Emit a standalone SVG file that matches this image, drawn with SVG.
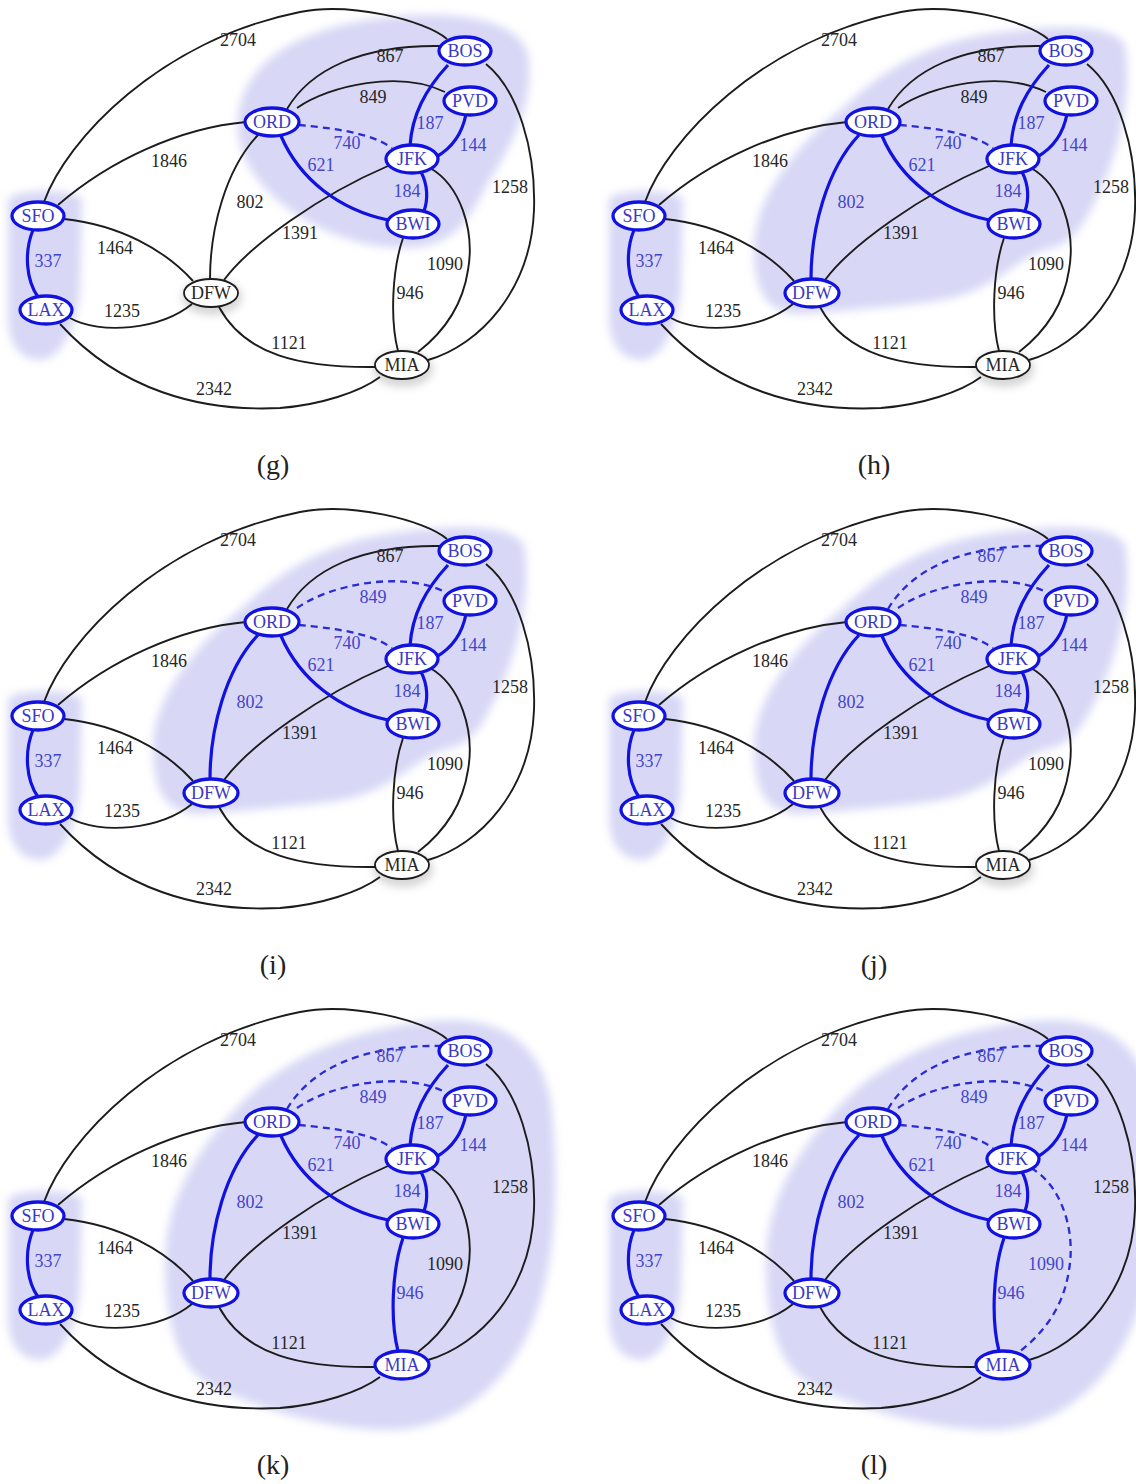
<svg xmlns="http://www.w3.org/2000/svg" width="1136" height="1484" viewBox="0 0 1136 1484">
<style>
.k{fill:none;stroke:#1c1c1c;stroke-width:1.9}
.b{fill:none;stroke:#1212e0;stroke-width:3.2}
.d{fill:none;stroke:#2a2ad6;stroke-width:2.3;stroke-dasharray:7 5}
.lk,.lb{font-family:"Liberation Serif",serif;font-size:18px;text-anchor:middle}
.lk{fill:#262626}
.lb{fill:#4444cc}
.nb ellipse{fill:#fff;stroke:#1212e0;stroke-width:3.3}
.nk ellipse{fill:#fff;stroke:#1c1c1c;stroke-width:1.8}
.nb text,.nk text{font-family:"Liberation Serif",serif;font-size:18px;text-anchor:middle}
.nb text{fill:#3a3ac4}
.nk text{fill:#262626}
.blob{fill:#d8d8f6;filter:url(#soft)}
.halo{fill:#d6d6d6;filter:url(#soft)}
.cap{font-family:"Liberation Serif",serif;font-size:28px;fill:#222;text-anchor:middle}
</style>
<defs>
<filter id="soft" x="-20%" y="-20%" width="140%" height="140%"><feGaussianBlur stdDeviation="4"/></filter>
<path id="e2704" d="M 44,202 C 66,140 160,40 300,12 C 350,2 425,20 447,39"/>
<path id="e1846" d="M 58,205 C 110,160 180,128 246,122"/>
<path id="e1464" d="M 64,219 C 120,225 165,250 193,281"/>
<path id="e337" d="M 33,230 C 24,252 26,280 38,297"/>
<path id="e1235" d="M 70,318 C 100,335 160,330 192,304"/>
<path id="e2342" d="M 60,324 C 120,390 200,412 280,408 C 320,405 360,392 380,377"/>
<path id="e802" d="M 210,279 C 210,230 225,170 258,135"/>
<path id="e1391" d="M 224,280 C 250,245 320,195 388,166"/>
<path id="e1121" d="M 219,307 C 245,355 300,368 376,367"/>
<path id="e867" d="M 287,109 C 310,70 360,45 440,46"/>
<path id="e849" d="M 297,108 C 330,85 400,70 445,92"/>
<path id="e740" d="M 299,125 C 330,128 370,132 392,148"/>
<path id="e621" d="M 281,136 C 300,180 340,210 388,220"/>
<path id="e187" d="M 448,65 C 425,90 412,115 410,146"/>
<path id="e144" d="M 466,114 C 462,135 452,148 436,157"/>
<path id="e184" d="M 421,172 C 428,185 428,200 424,211"/>
<path id="e1090" d="M 430,168 C 460,185 475,230 468,270 C 462,310 440,335 418,352"/>
<path id="e946" d="M 403,238 C 392,270 390,320 398,351"/>
<path id="e1258" d="M 486,64 C 518,90 536,150 534,210 C 531,290 480,345 428,360"/>
<path id="blobSL" d="M 8,200 C 10,188 80,188 82,200 L 80,290 C 76,330 60,360 40,360 C 18,360 8,340 8,320 Z"/>
<path id="blobG" d="M 240,105 C 250,60 300,28 380,18 C 440,10 520,15 528,55 C 535,100 515,140 490,180 C 470,215 460,245 410,248 C 350,250 290,220 258,180 C 238,155 234,125 240,105 Z"/>
<path id="blobH" d="M 153,250 C 150,200 200,140 240,110 C 280,70 330,40 400,32 C 450,26 510,22 524,45 C 532,90 520,150 495,200 C 480,230 470,245 443,250 C 410,262 390,295 330,302 C 280,308 230,312 200,314 C 165,314 153,290 153,250 Z"/>
<path id="blobK" d="M 165,260 C 165,190 210,130 260,85 C 310,45 380,22 450,20 C 510,20 545,50 552,110 C 560,200 555,280 525,340 C 500,390 450,430 390,430 C 330,430 260,410 210,385 C 175,365 165,320 165,260 Z"/>
</defs>
<rect width="1136" height="1484" fill="#fff"/>

<!-- panel g -->
<g id="panel-g">
<g id="g-highlight"><use href="#blobSL" class="blob"/><use href="#blobG" class="blob"/><ellipse class="halo" cx="212" cy="297" rx="30" ry="18"/><ellipse class="halo" cx="403" cy="369" rx="30" ry="18"/></g>
<g id="g-connectors">
<use href="#e2704" class="k"/><use href="#e1846" class="k"/><use href="#e1464" class="k"/><use href="#e337" class="b"/><use href="#e1235" class="k"/><use href="#e2342" class="k"/><use href="#e802" class="k"/><use href="#e1391" class="k"/><use href="#e1121" class="k"/><use href="#e867" class="k"/><use href="#e849" class="k"/><use href="#e740" class="d"/><use href="#e621" class="b"/><use href="#e187" class="b"/><use href="#e144" class="b"/><use href="#e184" class="b"/><use href="#e1090" class="k"/><use href="#e946" class="k"/><use href="#e1258" class="k"/>
</g>
<g id="g-labels">
<text class="lk" x="238" y="46">2704</text><text class="lk" x="390" y="62">867</text><text class="lk" x="373" y="103">849</text><text class="lk" x="169" y="167">1846</text><text class="lb" x="347" y="149">740</text><text class="lb" x="321" y="171">621</text><text class="lb" x="430" y="129">187</text><text class="lb" x="473" y="151">144</text><text class="lb" x="407" y="197">184</text><text class="lk" x="510" y="193">1258</text><text class="lk" x="250" y="208">802</text><text class="lk" x="300" y="239">1391</text><text class="lk" x="115" y="254">1464</text><text class="lk" x="445" y="270">1090</text><text class="lb" x="48" y="267">337</text><text class="lk" x="410" y="299">946</text><text class="lk" x="122" y="317">1235</text><text class="lk" x="289" y="349">1121</text><text class="lk" x="214" y="395">2342</text>
</g>
<g id="g-SFO" class="nb"><ellipse cx="38" cy="216" rx="26" ry="14"/><text x="38" y="222">SFO</text></g>
<g id="g-LAX" class="nb"><ellipse cx="46" cy="310" rx="26" ry="14"/><text x="46" y="316">LAX</text></g>
<g id="g-DFW" class="nk"><ellipse cx="211" cy="293" rx="27" ry="14"/><text x="211" y="299">DFW</text></g>
<g id="g-ORD" class="nb"><ellipse cx="272" cy="122" rx="27" ry="14"/><text x="272" y="128">ORD</text></g>
<g id="g-BOS" class="nb"><ellipse cx="465" cy="51" rx="26" ry="14"/><text x="465" y="57">BOS</text></g>
<g id="g-PVD" class="nb"><ellipse cx="470" cy="101" rx="26" ry="14"/><text x="470" y="107">PVD</text></g>
<g id="g-JFK" class="nb"><ellipse cx="412" cy="159" rx="26" ry="14"/><text x="412" y="165">JFK</text></g>
<g id="g-BWI" class="nb"><ellipse cx="413" cy="224" rx="26" ry="14"/><text x="413" y="230">BWI</text></g>
<g id="g-MIA" class="nk"><ellipse cx="402" cy="365" rx="27" ry="14"/><text x="402" y="371">MIA</text></g>
<text class="cap" x="273" y="474">(g)</text>
</g>

<!-- panel h -->
<g id="panel-h" transform="translate(601,0)">
<g id="h-highlight"><use href="#blobSL" class="blob"/><use href="#blobH" class="blob"/><ellipse class="halo" cx="403" cy="369" rx="30" ry="18"/></g>
<g id="h-connectors">
<use href="#e2704" class="k"/><use href="#e1846" class="k"/><use href="#e1464" class="k"/><use href="#e337" class="b"/><use href="#e1235" class="k"/><use href="#e2342" class="k"/><use href="#e802" class="b"/><use href="#e1391" class="k"/><use href="#e1121" class="k"/><use href="#e867" class="k"/><use href="#e849" class="k"/><use href="#e740" class="d"/><use href="#e621" class="b"/><use href="#e187" class="b"/><use href="#e144" class="b"/><use href="#e184" class="b"/><use href="#e1090" class="k"/><use href="#e946" class="k"/><use href="#e1258" class="k"/>
</g>
<g id="h-labels">
<text class="lk" x="238" y="46">2704</text><text class="lk" x="390" y="62">867</text><text class="lk" x="373" y="103">849</text><text class="lk" x="169" y="167">1846</text><text class="lb" x="347" y="149">740</text><text class="lb" x="321" y="171">621</text><text class="lb" x="430" y="129">187</text><text class="lb" x="473" y="151">144</text><text class="lb" x="407" y="197">184</text><text class="lk" x="510" y="193">1258</text><text class="lb" x="250" y="208">802</text><text class="lk" x="300" y="239">1391</text><text class="lk" x="115" y="254">1464</text><text class="lk" x="445" y="270">1090</text><text class="lb" x="48" y="267">337</text><text class="lk" x="410" y="299">946</text><text class="lk" x="122" y="317">1235</text><text class="lk" x="289" y="349">1121</text><text class="lk" x="214" y="395">2342</text>
</g>
<g id="h-SFO" class="nb"><ellipse cx="38" cy="216" rx="26" ry="14"/><text x="38" y="222">SFO</text></g>
<g id="h-LAX" class="nb"><ellipse cx="46" cy="310" rx="26" ry="14"/><text x="46" y="316">LAX</text></g>
<g id="h-DFW" class="nb"><ellipse cx="211" cy="293" rx="27" ry="14"/><text x="211" y="299">DFW</text></g>
<g id="h-ORD" class="nb"><ellipse cx="272" cy="122" rx="27" ry="14"/><text x="272" y="128">ORD</text></g>
<g id="h-BOS" class="nb"><ellipse cx="465" cy="51" rx="26" ry="14"/><text x="465" y="57">BOS</text></g>
<g id="h-PVD" class="nb"><ellipse cx="470" cy="101" rx="26" ry="14"/><text x="470" y="107">PVD</text></g>
<g id="h-JFK" class="nb"><ellipse cx="412" cy="159" rx="26" ry="14"/><text x="412" y="165">JFK</text></g>
<g id="h-BWI" class="nb"><ellipse cx="413" cy="224" rx="26" ry="14"/><text x="413" y="230">BWI</text></g>
<g id="h-MIA" class="nk"><ellipse cx="402" cy="365" rx="27" ry="14"/><text x="402" y="371">MIA</text></g>
<text class="cap" x="273" y="474">(h)</text>
</g>

<!-- panel i -->
<g id="panel-i" transform="translate(0,500)">
<g id="i-highlight"><use href="#blobSL" class="blob"/><use href="#blobH" class="blob"/><ellipse class="halo" cx="403" cy="369" rx="30" ry="18"/></g>
<g id="i-connectors">
<use href="#e2704" class="k"/><use href="#e1846" class="k"/><use href="#e1464" class="k"/><use href="#e337" class="b"/><use href="#e1235" class="k"/><use href="#e2342" class="k"/><use href="#e802" class="b"/><use href="#e1391" class="k"/><use href="#e1121" class="k"/><use href="#e867" class="k"/><use href="#e849" class="d"/><use href="#e740" class="d"/><use href="#e621" class="b"/><use href="#e187" class="b"/><use href="#e144" class="b"/><use href="#e184" class="b"/><use href="#e1090" class="k"/><use href="#e946" class="k"/><use href="#e1258" class="k"/>
</g>
<g id="i-labels">
<text class="lk" x="238" y="46">2704</text><text class="lk" x="390" y="62">867</text><text class="lb" x="373" y="103">849</text><text class="lk" x="169" y="167">1846</text><text class="lb" x="347" y="149">740</text><text class="lb" x="321" y="171">621</text><text class="lb" x="430" y="129">187</text><text class="lb" x="473" y="151">144</text><text class="lb" x="407" y="197">184</text><text class="lk" x="510" y="193">1258</text><text class="lb" x="250" y="208">802</text><text class="lk" x="300" y="239">1391</text><text class="lk" x="115" y="254">1464</text><text class="lk" x="445" y="270">1090</text><text class="lb" x="48" y="267">337</text><text class="lk" x="410" y="299">946</text><text class="lk" x="122" y="317">1235</text><text class="lk" x="289" y="349">1121</text><text class="lk" x="214" y="395">2342</text>
</g>
<g id="i-SFO" class="nb"><ellipse cx="38" cy="216" rx="26" ry="14"/><text x="38" y="222">SFO</text></g>
<g id="i-LAX" class="nb"><ellipse cx="46" cy="310" rx="26" ry="14"/><text x="46" y="316">LAX</text></g>
<g id="i-DFW" class="nb"><ellipse cx="211" cy="293" rx="27" ry="14"/><text x="211" y="299">DFW</text></g>
<g id="i-ORD" class="nb"><ellipse cx="272" cy="122" rx="27" ry="14"/><text x="272" y="128">ORD</text></g>
<g id="i-BOS" class="nb"><ellipse cx="465" cy="51" rx="26" ry="14"/><text x="465" y="57">BOS</text></g>
<g id="i-PVD" class="nb"><ellipse cx="470" cy="101" rx="26" ry="14"/><text x="470" y="107">PVD</text></g>
<g id="i-JFK" class="nb"><ellipse cx="412" cy="159" rx="26" ry="14"/><text x="412" y="165">JFK</text></g>
<g id="i-BWI" class="nb"><ellipse cx="413" cy="224" rx="26" ry="14"/><text x="413" y="230">BWI</text></g>
<g id="i-MIA" class="nk"><ellipse cx="402" cy="365" rx="27" ry="14"/><text x="402" y="371">MIA</text></g>
<text class="cap" x="273" y="474">(i)</text>
</g>

<!-- panel j -->
<g id="panel-j" transform="translate(601,500)">
<g id="j-highlight"><use href="#blobSL" class="blob"/><use href="#blobH" class="blob"/><ellipse class="halo" cx="403" cy="369" rx="30" ry="18"/></g>
<g id="j-connectors">
<use href="#e2704" class="k"/><use href="#e1846" class="k"/><use href="#e1464" class="k"/><use href="#e337" class="b"/><use href="#e1235" class="k"/><use href="#e2342" class="k"/><use href="#e802" class="b"/><use href="#e1391" class="k"/><use href="#e1121" class="k"/><use href="#e867" class="d"/><use href="#e849" class="d"/><use href="#e740" class="d"/><use href="#e621" class="b"/><use href="#e187" class="b"/><use href="#e144" class="b"/><use href="#e184" class="b"/><use href="#e1090" class="k"/><use href="#e946" class="k"/><use href="#e1258" class="k"/>
</g>
<g id="j-labels">
<text class="lk" x="238" y="46">2704</text><text class="lb" x="390" y="62">867</text><text class="lb" x="373" y="103">849</text><text class="lk" x="169" y="167">1846</text><text class="lb" x="347" y="149">740</text><text class="lb" x="321" y="171">621</text><text class="lb" x="430" y="129">187</text><text class="lb" x="473" y="151">144</text><text class="lb" x="407" y="197">184</text><text class="lk" x="510" y="193">1258</text><text class="lb" x="250" y="208">802</text><text class="lk" x="300" y="239">1391</text><text class="lk" x="115" y="254">1464</text><text class="lk" x="445" y="270">1090</text><text class="lb" x="48" y="267">337</text><text class="lk" x="410" y="299">946</text><text class="lk" x="122" y="317">1235</text><text class="lk" x="289" y="349">1121</text><text class="lk" x="214" y="395">2342</text>
</g>
<g id="j-SFO" class="nb"><ellipse cx="38" cy="216" rx="26" ry="14"/><text x="38" y="222">SFO</text></g>
<g id="j-LAX" class="nb"><ellipse cx="46" cy="310" rx="26" ry="14"/><text x="46" y="316">LAX</text></g>
<g id="j-DFW" class="nb"><ellipse cx="211" cy="293" rx="27" ry="14"/><text x="211" y="299">DFW</text></g>
<g id="j-ORD" class="nb"><ellipse cx="272" cy="122" rx="27" ry="14"/><text x="272" y="128">ORD</text></g>
<g id="j-BOS" class="nb"><ellipse cx="465" cy="51" rx="26" ry="14"/><text x="465" y="57">BOS</text></g>
<g id="j-PVD" class="nb"><ellipse cx="470" cy="101" rx="26" ry="14"/><text x="470" y="107">PVD</text></g>
<g id="j-JFK" class="nb"><ellipse cx="412" cy="159" rx="26" ry="14"/><text x="412" y="165">JFK</text></g>
<g id="j-BWI" class="nb"><ellipse cx="413" cy="224" rx="26" ry="14"/><text x="413" y="230">BWI</text></g>
<g id="j-MIA" class="nk"><ellipse cx="402" cy="365" rx="27" ry="14"/><text x="402" y="371">MIA</text></g>
<text class="cap" x="273" y="474">(j)</text>
</g>

<!-- panel k -->
<g id="panel-k" transform="translate(0,1000)">
<g id="k-highlight"><use href="#blobSL" class="blob"/><use href="#blobK" class="blob"/></g>
<g id="k-connectors">
<use href="#e2704" class="k"/><use href="#e1846" class="k"/><use href="#e1464" class="k"/><use href="#e337" class="b"/><use href="#e1235" class="k"/><use href="#e2342" class="k"/><use href="#e802" class="b"/><use href="#e1391" class="k"/><use href="#e1121" class="k"/><use href="#e867" class="d"/><use href="#e849" class="d"/><use href="#e740" class="d"/><use href="#e621" class="b"/><use href="#e187" class="b"/><use href="#e144" class="b"/><use href="#e184" class="b"/><use href="#e1090" class="k"/><use href="#e946" class="b"/><use href="#e1258" class="k"/>
</g>
<g id="k-labels">
<text class="lk" x="238" y="46">2704</text><text class="lb" x="390" y="62">867</text><text class="lb" x="373" y="103">849</text><text class="lk" x="169" y="167">1846</text><text class="lb" x="347" y="149">740</text><text class="lb" x="321" y="171">621</text><text class="lb" x="430" y="129">187</text><text class="lb" x="473" y="151">144</text><text class="lb" x="407" y="197">184</text><text class="lk" x="510" y="193">1258</text><text class="lb" x="250" y="208">802</text><text class="lk" x="300" y="239">1391</text><text class="lk" x="115" y="254">1464</text><text class="lk" x="445" y="270">1090</text><text class="lb" x="48" y="267">337</text><text class="lb" x="410" y="299">946</text><text class="lk" x="122" y="317">1235</text><text class="lk" x="289" y="349">1121</text><text class="lk" x="214" y="395">2342</text>
</g>
<g id="k-SFO" class="nb"><ellipse cx="38" cy="216" rx="26" ry="14"/><text x="38" y="222">SFO</text></g>
<g id="k-LAX" class="nb"><ellipse cx="46" cy="310" rx="26" ry="14"/><text x="46" y="316">LAX</text></g>
<g id="k-DFW" class="nb"><ellipse cx="211" cy="293" rx="27" ry="14"/><text x="211" y="299">DFW</text></g>
<g id="k-ORD" class="nb"><ellipse cx="272" cy="122" rx="27" ry="14"/><text x="272" y="128">ORD</text></g>
<g id="k-BOS" class="nb"><ellipse cx="465" cy="51" rx="26" ry="14"/><text x="465" y="57">BOS</text></g>
<g id="k-PVD" class="nb"><ellipse cx="470" cy="101" rx="26" ry="14"/><text x="470" y="107">PVD</text></g>
<g id="k-JFK" class="nb"><ellipse cx="412" cy="159" rx="26" ry="14"/><text x="412" y="165">JFK</text></g>
<g id="k-BWI" class="nb"><ellipse cx="413" cy="224" rx="26" ry="14"/><text x="413" y="230">BWI</text></g>
<g id="k-MIA" class="nb"><ellipse cx="402" cy="365" rx="27" ry="14"/><text x="402" y="371">MIA</text></g>
<text class="cap" x="273" y="474">(k)</text>
</g>

<!-- panel l -->
<g id="panel-l" transform="translate(601,1000)">
<g id="l-highlight"><use href="#blobSL" class="blob"/><use href="#blobK" class="blob"/></g>
<g id="l-connectors">
<use href="#e2704" class="k"/><use href="#e1846" class="k"/><use href="#e1464" class="k"/><use href="#e337" class="b"/><use href="#e1235" class="k"/><use href="#e2342" class="k"/><use href="#e802" class="b"/><use href="#e1391" class="k"/><use href="#e1121" class="k"/><use href="#e867" class="d"/><use href="#e849" class="d"/><use href="#e740" class="d"/><use href="#e621" class="b"/><use href="#e187" class="b"/><use href="#e144" class="b"/><use href="#e184" class="b"/><use href="#e1090" class="d"/><use href="#e946" class="b"/><use href="#e1258" class="k"/>
</g>
<g id="l-labels">
<text class="lk" x="238" y="46">2704</text><text class="lb" x="390" y="62">867</text><text class="lb" x="373" y="103">849</text><text class="lk" x="169" y="167">1846</text><text class="lb" x="347" y="149">740</text><text class="lb" x="321" y="171">621</text><text class="lb" x="430" y="129">187</text><text class="lb" x="473" y="151">144</text><text class="lb" x="407" y="197">184</text><text class="lk" x="510" y="193">1258</text><text class="lb" x="250" y="208">802</text><text class="lk" x="300" y="239">1391</text><text class="lk" x="115" y="254">1464</text><text class="lb" x="445" y="270">1090</text><text class="lb" x="48" y="267">337</text><text class="lb" x="410" y="299">946</text><text class="lk" x="122" y="317">1235</text><text class="lk" x="289" y="349">1121</text><text class="lk" x="214" y="395">2342</text>
</g>
<g id="l-SFO" class="nb"><ellipse cx="38" cy="216" rx="26" ry="14"/><text x="38" y="222">SFO</text></g>
<g id="l-LAX" class="nb"><ellipse cx="46" cy="310" rx="26" ry="14"/><text x="46" y="316">LAX</text></g>
<g id="l-DFW" class="nb"><ellipse cx="211" cy="293" rx="27" ry="14"/><text x="211" y="299">DFW</text></g>
<g id="l-ORD" class="nb"><ellipse cx="272" cy="122" rx="27" ry="14"/><text x="272" y="128">ORD</text></g>
<g id="l-BOS" class="nb"><ellipse cx="465" cy="51" rx="26" ry="14"/><text x="465" y="57">BOS</text></g>
<g id="l-PVD" class="nb"><ellipse cx="470" cy="101" rx="26" ry="14"/><text x="470" y="107">PVD</text></g>
<g id="l-JFK" class="nb"><ellipse cx="412" cy="159" rx="26" ry="14"/><text x="412" y="165">JFK</text></g>
<g id="l-BWI" class="nb"><ellipse cx="413" cy="224" rx="26" ry="14"/><text x="413" y="230">BWI</text></g>
<g id="l-MIA" class="nb"><ellipse cx="402" cy="365" rx="27" ry="14"/><text x="402" y="371">MIA</text></g>
<text class="cap" x="273" y="474">(l)</text>
</g>
</svg>
